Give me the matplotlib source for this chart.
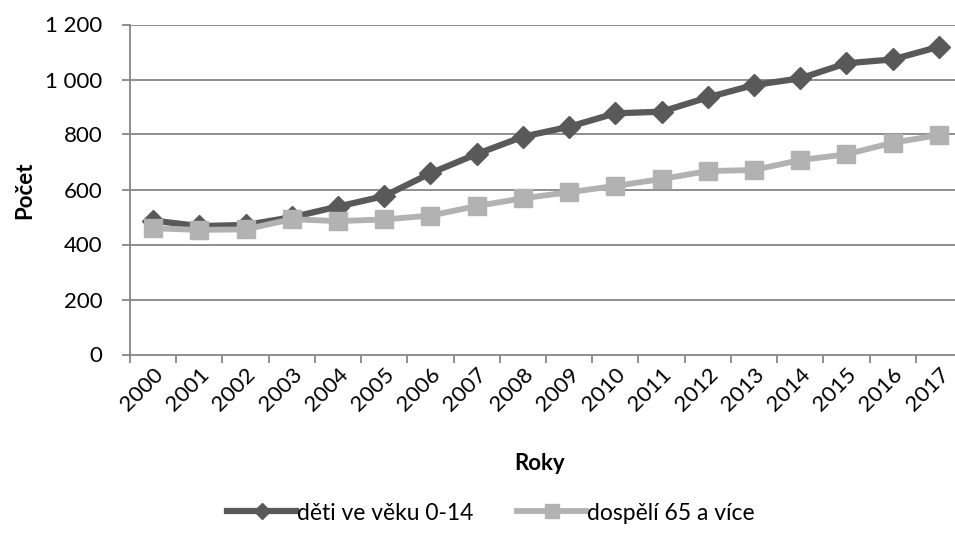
import matplotlib
matplotlib.use("Agg")
import matplotlib.pyplot as plt
import numpy as np

years = [str(y) for y in range(2000, 2018)]
deti = [487, 467, 471, 499, 538, 576, 659, 729, 792, 828, 877, 883, 935, 980, 1004, 1059, 1073, 1119]
dospeli = [459, 453, 455, 492, 485, 491, 505, 540, 568, 590, 613, 638, 667, 671, 707, 728, 770, 798]
yticks = [0, 200, 400, 600, 800, 1000, 1200]
ytick_labels = ["0", "200", "400", "600", "800", "1 000", "1 200"]

plt.rcParams['font.family'] = ['Lato', 'DejaVu Sans']
fs = 16

W, H = 955, 543
fig = plt.figure(figsize=(W / 100, H / 100), dpi=100)
ax = fig.add_axes([130 / W, 1 - 354.5 / H, 832 / W, 330 / H])

grid_col = "#868686"
x = np.arange(len(years))
ax.plot(x, deti, color="#595959", lw=4.5, marker="D", markersize=11, label="děti ve věku 0-14", zorder=3)
ax.plot(x, dospeli, color="#b2b2b2", lw=4.2, marker="s", markersize=12.5, label="dospělí 65 a více", zorder=4)

ax.set_xlim(-0.5, len(years) - 0.5)
ax.set_ylim(0, 1200)
ax.set_yticks(yticks)
ax.set_yticklabels(ytick_labels, fontsize=fs)
for v in yticks[1:]:
    ax.axhline(v, color=grid_col, lw=1.3, zorder=1)

ax.set_xticks(x)
ax.set_xticklabels(years, rotation=45, ha="right", va="top", rotation_mode="anchor", fontsize=fs)
ax.tick_params(axis="x", which="major", length=0, pad=7)
ax.set_xticks(np.arange(-0.5, len(years), 1), minor=True)
ax.tick_params(axis="x", which="minor", length=6, width=1.3, color=grid_col, direction="out")
ax.tick_params(axis="y", length=6, width=1.3, color=grid_col, direction="out", pad=14)

for s in ["top", "right"]:
    ax.spines[s].set_visible(False)
for s in ["left", "bottom"]:
    ax.spines[s].set_color(grid_col)
    ax.spines[s].set_linewidth(1.3)

fig.text(25 / W, 1 - 190 / H, "Počet", rotation=90, ha="center", va="center", fontsize=fs, fontweight="bold")
fig.text(540 / W, 1 - 463 / H, "Roky", ha="center", va="center", fontsize=fs, fontweight="bold")

fig.legend(loc="center", bbox_to_anchor=(491 / W, 1 - 513 / H), ncol=2, frameon=False,
           fontsize=fs + 0.5, handlelength=3.0, handletextpad=0.05, columnspacing=1.9, markerscale=0.75)

fig.savefig("out.png", dpi=100)
